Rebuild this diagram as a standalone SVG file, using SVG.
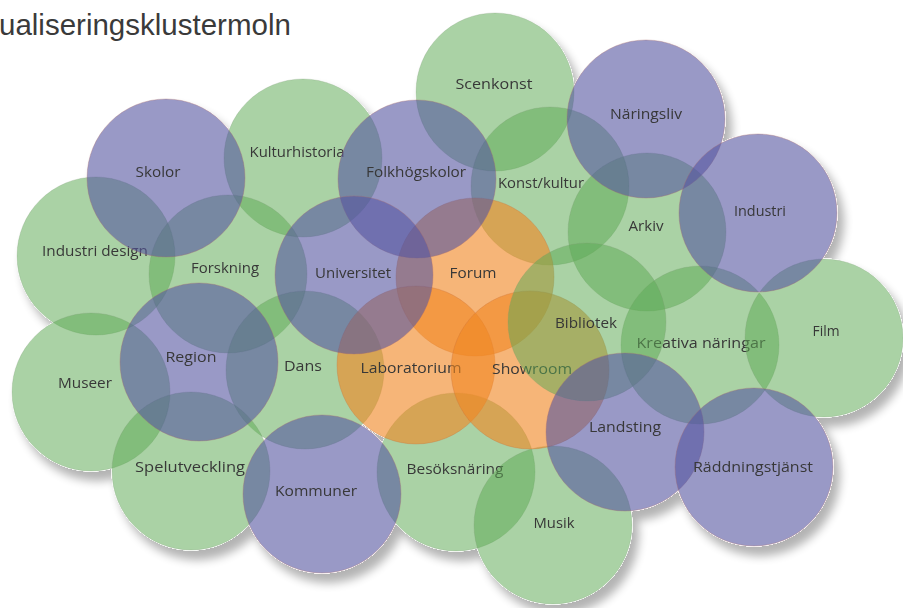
<svg xmlns="http://www.w3.org/2000/svg" width="903" height="608" viewBox="0 0 903 608">
<defs>
<filter id="shadow" x="-5%" y="-5%" width="115%" height="115%">
<feComponentTransfer in="SourceAlpha" result="solid"><feFuncA type="linear" slope="20"/></feComponentTransfer>
<feGaussianBlur in="solid" stdDeviation="5" result="blur"/>
<feOffset in="blur" dx="6" dy="9" result="off"/>
<feComponentTransfer in="off" result="soft"><feFuncA type="linear" slope="0.3"/></feComponentTransfer>
<feComposite in="soft" in2="solid" operator="out" result="sh"/>
<feMerge><feMergeNode in="sh"/><feMergeNode in="SourceGraphic"/></feMerge>
</filter>
<style>
.g{fill:rgb(95,170,85);fill-opacity:.53;stroke:rgb(120,150,110);stroke-opacity:.25;stroke-width:1}
.b{fill:rgb(85,85,160);fill-opacity:.6;stroke:rgb(170,110,110);stroke-opacity:.35;stroke-width:1}
.o{fill:rgb(240,135,35);fill-opacity:.62;stroke:rgb(200,110,60);stroke-opacity:.3;stroke-width:1}
.t{font-family:"Open Sans","DejaVu Sans",sans-serif;font-size:15px;fill:#383838;text-anchor:middle}
.title{font-family:"Liberation Sans",Arial,sans-serif;font-size:29.5px;fill:#3a3a3a}
</style>
</defs>
<rect width="903" height="608" fill="#ffffff"/>
<text class="title" x="-1" y="35">ualiseringsklustermoln</text>
<g id="nodes" filter="url(#shadow)">
<g id="node-scenkonst"><circle class="g" cx="495" cy="92" r="79"/><text class="t" x="494" y="89" textLength="77" lengthAdjust="spacingAndGlyphs">Scenkonst</text></g>
<g id="node-kulturhistoria"><circle class="g" cx="303" cy="158" r="79"/><text class="t" x="297" y="157" textLength="95" lengthAdjust="spacingAndGlyphs">Kulturhistoria</text></g>
<g id="node-konst-kultur"><circle class="g" cx="550" cy="186" r="79"/><text class="t" x="541" y="188" textLength="86" lengthAdjust="spacingAndGlyphs">Konst/kultur</text></g>
<g id="node-arkiv"><circle class="g" cx="647" cy="232" r="79"/><text class="t" x="646" y="231" textLength="35" lengthAdjust="spacingAndGlyphs">Arkiv</text></g>
<g id="node-industri-design"><circle class="g" cx="96" cy="256" r="79"/><text class="t" x="95" y="256" textLength="106" lengthAdjust="spacingAndGlyphs">Industri design</text></g>
<g id="node-forskning"><circle class="g" cx="228" cy="274" r="79"/><text class="t" x="225" y="273" textLength="68" lengthAdjust="spacingAndGlyphs">Forskning</text></g>
<g id="node-kreativa-naringar"><circle class="g" cx="700" cy="345" r="79"/><text class="t" x="701" y="348" textLength="129" lengthAdjust="spacingAndGlyphs">Kreativa näringar</text></g>
<g id="node-film"><circle class="g" cx="824" cy="338" r="79"/><text class="t" x="826" y="336" textLength="27" lengthAdjust="spacingAndGlyphs">Film</text></g>
<g id="node-museer"><circle class="g" cx="91" cy="392" r="79"/><text class="t" x="85" y="388" textLength="54" lengthAdjust="spacingAndGlyphs">Museer</text></g>
<g id="node-dans"><circle class="g" cx="305" cy="370" r="79"/><text class="t" x="303" y="371" textLength="38" lengthAdjust="spacingAndGlyphs">Dans</text></g>
<g id="node-spelutveckling"><circle class="g" cx="191" cy="471" r="79"/><text class="t" x="190" y="472" textLength="110" lengthAdjust="spacingAndGlyphs">Spelutveckling</text></g>
<g id="node-besoksnaring"><circle class="g" cx="456" cy="472" r="79"/><text class="t" x="455" y="474" textLength="97" lengthAdjust="spacingAndGlyphs">Besöksnäring</text></g>
<g id="node-musik"><circle class="g" cx="553" cy="525" r="79"/><text class="t" x="554" y="528" textLength="41" lengthAdjust="spacingAndGlyphs">Musik</text></g>
<g id="node-forum"><circle class="o" cx="475" cy="277" r="79"/><text class="t" x="473" y="278" textLength="47" lengthAdjust="spacingAndGlyphs">Forum</text></g>
<g id="node-laboratorium"><circle class="o" cx="416" cy="365" r="79"/><text class="t" x="411" y="373" textLength="101" lengthAdjust="spacingAndGlyphs">Laboratorium</text></g>
<g id="node-showroom"><circle class="o" cx="530" cy="370" r="79"/><text class="t" x="532" y="374" textLength="80" lengthAdjust="spacingAndGlyphs">Showroom</text></g>
<g id="node-bibliotek"><circle class="g" cx="587" cy="322" r="79"/><text class="t" x="586" y="328" textLength="62" lengthAdjust="spacingAndGlyphs">Bibliotek</text></g>
<g id="node-skolor"><circle class="b" cx="166" cy="178" r="79"/><text class="t" x="158" y="177" textLength="45" lengthAdjust="spacingAndGlyphs">Skolor</text></g>
<g id="node-folkhogskolor"><circle class="b" cx="417" cy="179" r="79"/><text class="t" x="416" y="177" textLength="100" lengthAdjust="spacingAndGlyphs">Folkhögskolor</text></g>
<g id="node-naringsliv"><circle class="b" cx="646" cy="119" r="79"/><text class="t" x="646" y="119" textLength="72" lengthAdjust="spacingAndGlyphs">Näringsliv</text></g>
<g id="node-industri"><circle class="b" cx="758" cy="213" r="79"/><text class="t" x="760" y="216" textLength="52" lengthAdjust="spacingAndGlyphs">Industri</text></g>
<g id="node-universitet"><circle class="b" cx="354" cy="275" r="79"/><text class="t" x="353" y="278" textLength="76" lengthAdjust="spacingAndGlyphs">Universitet</text></g>
<g id="node-region"><circle class="b" cx="199" cy="362" r="79"/><text class="t" x="191" y="362" textLength="51" lengthAdjust="spacingAndGlyphs">Region</text></g>
<g id="node-kommuner"><circle class="b" cx="322" cy="494" r="79"/><text class="t" x="316" y="496" textLength="82" lengthAdjust="spacingAndGlyphs">Kommuner</text></g>
<g id="node-landsting"><circle class="b" cx="625" cy="432" r="79"/><text class="t" x="625" y="432" textLength="72" lengthAdjust="spacingAndGlyphs">Landsting</text></g>
<g id="node-raddningstjanst"><circle class="b" cx="754" cy="467" r="79"/><text class="t" x="753" y="472" textLength="120" lengthAdjust="spacingAndGlyphs">Räddningstjänst</text></g>
</g>
<g id="connectors"/>
</svg>
